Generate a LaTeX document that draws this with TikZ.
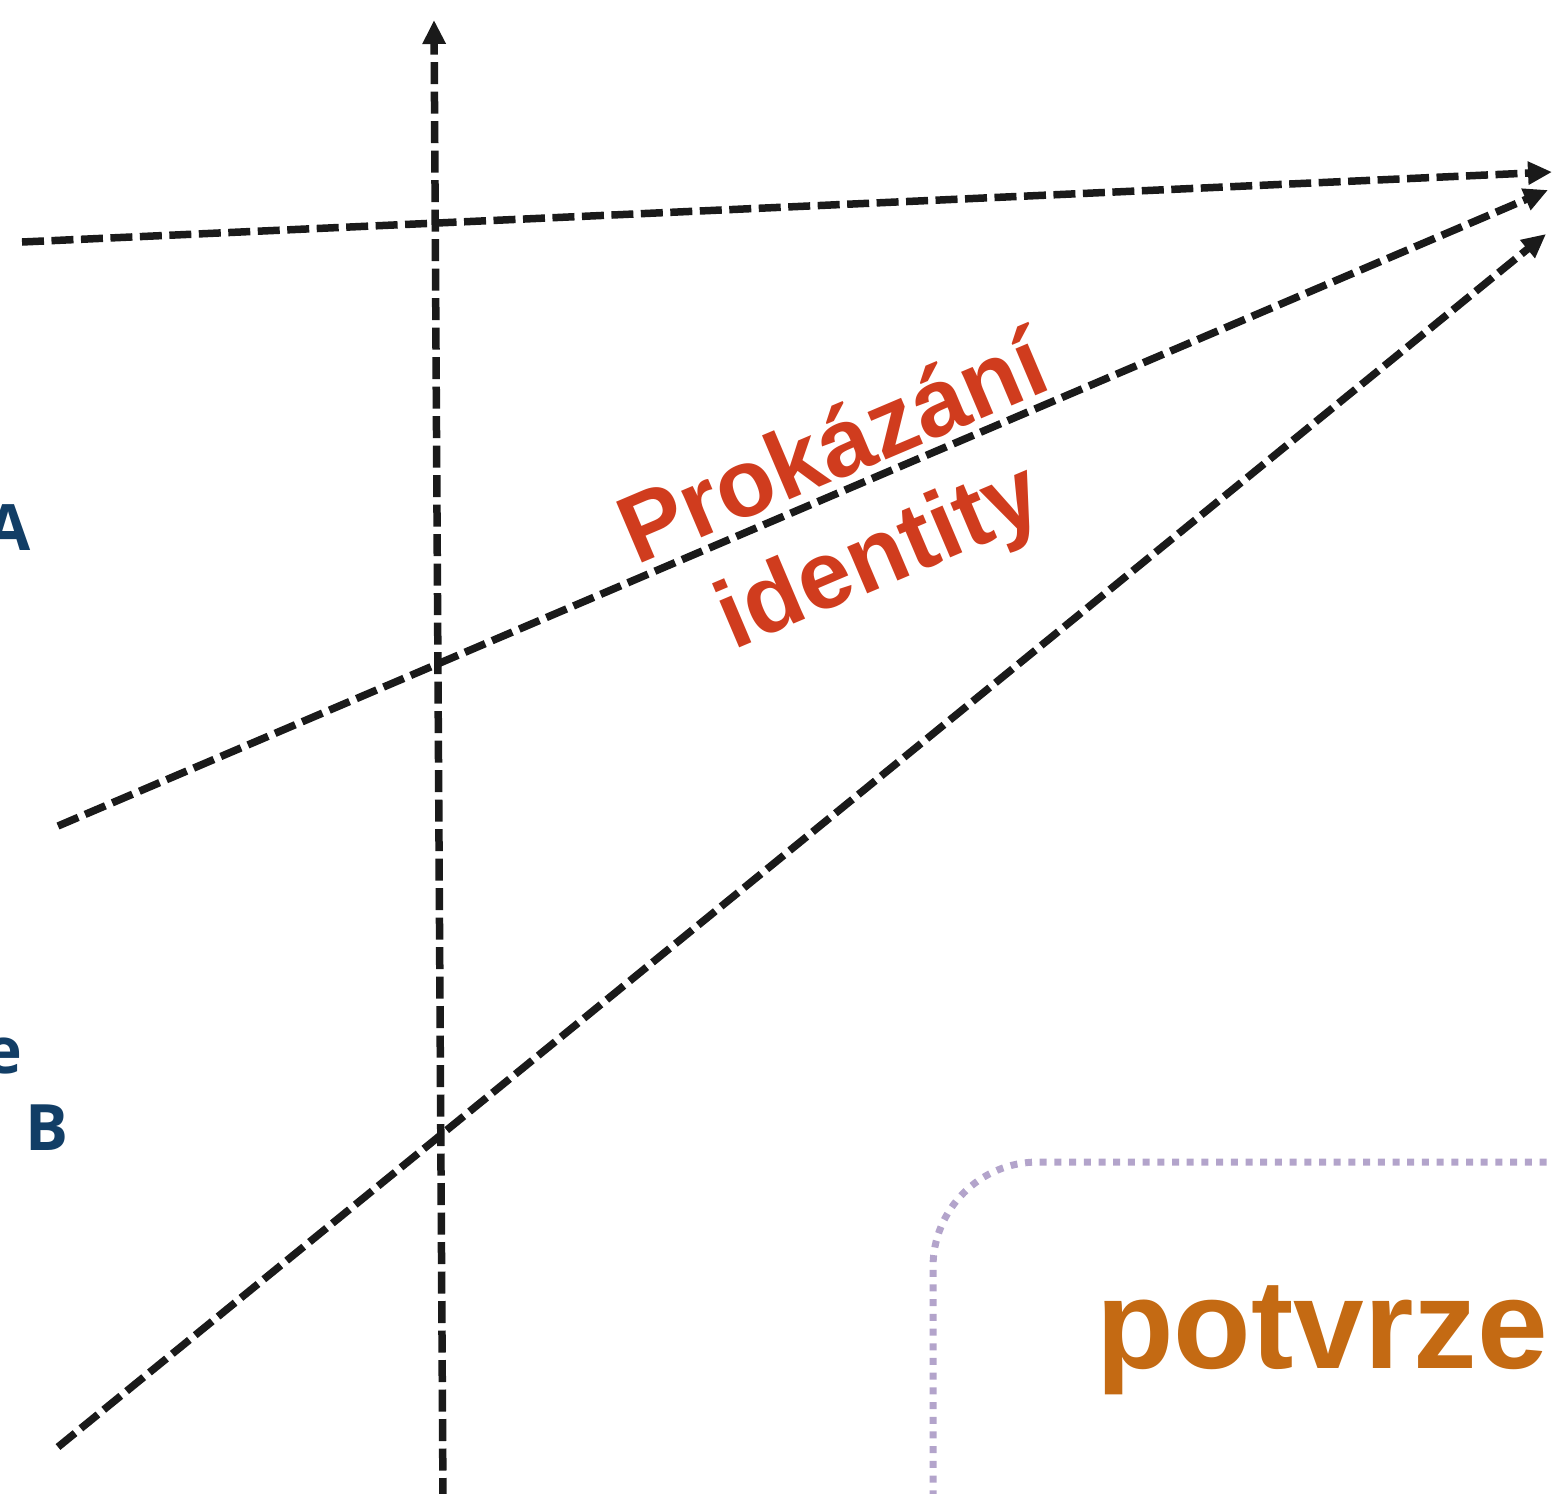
\documentclass[tikz,border=0pt]{standalone}
\usepackage{fontspec}
\setmainfont{Liberation Sans}
\newfontfamily\opensans{Open Sans}
\usetikzlibrary{arrows.meta}
\definecolor{dashblack}{HTML}{1A1A1A}
\definecolor{labelblue}{HTML}{123E66}
\definecolor{idred}{HTML}{D03C1E}
\definecolor{potorange}{HTML}{C46A13}
\definecolor{boxpurple}{HTML}{B3A4CB}
\tikzset{
  flow/.style={draw=dashblack, line width=7.5pt, dash pattern=on 22pt off 7.5pt,
    -{Triangle[length=24pt,width=22pt]}},
  sidelabel/.style={text=labelblue, font=\opensans\bfseries\fontsize{64}{70}\selectfont, inner sep=0pt},
  boxline/.style={draw=boxpurple, line width=7pt, dash pattern=on 7pt off 7.7pt, rounded corners=105pt}
}
\begin{document}
\begin{tikzpicture}[x=1pt,y=-1pt]
\useasboundingbox (0,0) rectangle (1553,1494);
\clip (0,0) rectangle (1553,1494);
% coordinates
\coordinate (h0) at (22,242);
\coordinate (h1) at (1552,172);
\coordinate (m0) at (58,826);
\coordinate (m1) at (1548,190);
\coordinate (l0) at (58,1447);
\coordinate (l1) at (1546,234);
\coordinate (v0) at (443,1500);
\coordinate (v1) at (434,20);
% connectors
\draw[flow] (h0) -- (h1);
\draw[flow] (m0) -- (m1);
\draw[flow] (l0) -- (l1);
\draw[flow] (v0) -- (v1);
% side labels (cut by the picture edge)
\node[sidelabel, anchor=base east] (la) at (31,550) {A};
\node[sidelabel, anchor=base east] (le) at (23,1073) {e};
\node[sidelabel, anchor=base west] (lb) at (25,1150) {B};
% rotated label
\node[text=idred, font=\bfseries\fontsize{96}{116}\selectfont, align=center,
      rotate=23, inner sep=0pt] (pid) at (858,507) {Prokázání\\identity};
% purple dotted box
\draw[boxline] (1620,1162) -- (933,1162) -- (933,1620);
\node[text=potorange, font=\bfseries\fontsize{127}{140}\selectfont, anchor=base west, inner sep=0pt]
  (pot) at (1096,1368) {potvrze};
\end{tikzpicture}
\end{document}
